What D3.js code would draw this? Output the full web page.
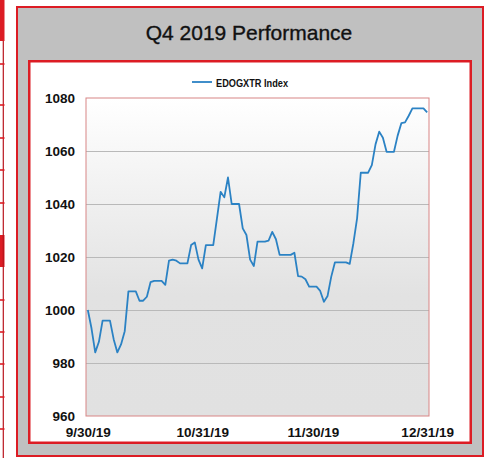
<!DOCTYPE html>
<html>
<head>
<meta charset="utf-8">
<script src="https://cdn.jsdelivr.net/npm/d3@7"></script>
<style>
  html, body { margin: 0; padding: 0; background: #fff; }
  svg { display: block; font-family: "Liberation Sans", Arial, sans-serif; }
</style>
</head>
<body>
<div id="chart"></div>
<script>
// daily index levels, 9/30/19 .. 12/31/19 (weekends carry the friday close)
const startDate = "2019-09-30"
const seriesName = "EDOGXTR Index"
const values = [
  1000, 993, 984, 988, 996, 996, 996,
  989, 984, 987, 992, 1007, 1007, 1007,
  1003.5, 1003.5, 1005, 1010.5, 1011, 1011, 1011,
  1009.5, 1018.6, 1019, 1018.6, 1017.6, 1017.6, 1017.6,
  1024.5, 1025.5, 1019, 1015.7, 1024.5, 1024.5, 1024.5,
  1034.5, 1044.6, 1042.5, 1050, 1040, 1040, 1040,
  1030.8, 1028.3, 1019, 1016.6, 1025.8, 1025.8, 1025.8,
  1026.2, 1029.5, 1026.7, 1020.8, 1020.8, 1020.8, 1020.8,
  1021.6, 1012.8, 1012.6, 1011.6, 1008.8, 1008.8, 1008.8,
  1007.2, 1003.1, 1005.3, 1012.6, 1018, 1018, 1018,
  1018, 1017.4, 1025.2, 1034.6, 1051.8, 1051.8, 1051.8,
  1054.7, 1062.5, 1067.3, 1065, 1059.7, 1059.7, 1059.7,
  1065.8, 1070.5, 1070.8, 1073.3, 1076.1, 1076.1, 1076.1,
  1076.1, 1074.6
]
const xTickLabels = ["9/30/19", "10/31/19", "11/30/19", "12/31/19"]
const yTicks = [960, 980, 1000, 1020, 1040, 1060, 1080]
const title = "Q4 2019 Performance"

const W = 485, H = 458
const red = "#dc1c24"
const plot = { left: 86, right: 429, top: 98, bottom: 416 }

const parse = d3.timeParse("%Y-%m-%d")
const start = parse(startDate)
const data = values.map((v, i) => ({ date: d3.timeDay.offset(start, i), value: v }))
const tickDates = xTickLabels.map(d3.timeParse("%-m/%d/%y"))

const svg = d3.select("#chart").append("svg")
    .attr("width", W)
    .attr("height", H)

// bits of the neighbouring table on the left edge
svg.append("rect").attr("x", 0).attr("y", 0).attr("width", 4.5).attr("height", 41).attr("fill", red)
svg.append("rect").attr("x", 0).attr("y", 235).attr("width", 4.5).attr("height", 32).attr("fill", red)
svg.append("line").attr("x1", 3.3).attr("x2", 3.3).attr("y1", 41).attr("y2", H)
    .attr("stroke", "#b8141c").attr("stroke-width", 1.2)
svg.selectAll(".rowline")
  .data([64, 105, 138, 170, 203, 300, 332, 364, 397, 429])
  .join("line")
    .attr("x1", 0).attr("x2", 4.5)
    .attr("y1", d => d).attr("y2", d => d)
    .attr("stroke", red).attr("stroke-width", 1.6)

// outer grey panel + inner white card
svg.append("rect")
    .attr("x", 17).attr("y", 7).attr("width", 466).attr("height", 449)
    .attr("fill", "#c0c0c0").attr("stroke", red).attr("stroke-width", 2)
svg.append("rect")
    .attr("x", 29.25).attr("y", 61.25).attr("width", 441.5).attr("height", 381.5)
    .attr("fill", "#fff").attr("stroke", red).attr("stroke-width", 2.5)

svg.append("text")
    .attr("x", 249).attr("y", 40)
    .attr("text-anchor", "middle")
    .style("font-size", "21px")
    .attr("fill", "#111")
    .attr("stroke", "#111").attr("stroke-width", 0.35)
    .text(title)

const x = d3.scaleTime()
    .domain([d3.timeHour.offset(tickDates[0], -12), d3.timeHour.offset(tickDates[3], 12)])
    .range([plot.left, plot.right])
const y = d3.scaleLinear()
    .domain([960, 1080])
    .range([plot.bottom, plot.top])

const defs = svg.append("defs")
const grad = defs.append("linearGradient").attr("id", "bg").attr("x1", 0).attr("x2", 0).attr("y1", 0).attr("y2", 1)
grad.append("stop").attr("offset", "0%").attr("stop-color", "#ffffff")
grad.append("stop").attr("offset", "62%").attr("stop-color", "#e2e2e2")
grad.append("stop").attr("offset", "100%").attr("stop-color", "#e1e1e1")

svg.append("rect")
    .attr("x", plot.left).attr("y", plot.top)
    .attr("width", plot.right - plot.left).attr("height", plot.bottom - plot.top)
    .attr("fill", "url(#bg)")

// gridlines
svg.append("g")
    .attr("transform", `translate(${plot.left},0)`)
    .call(d3.axisLeft(y).tickValues(yTicks.slice(1, -1)).tickSize(-(plot.right - plot.left)).tickFormat(""))
    .call(g => g.select(".domain").remove())
    .call(g => g.selectAll("line").attr("stroke", "#b9b9b9").attr("stroke-width", 1.2))

svg.append("rect")
    .attr("x", plot.left).attr("y", plot.top)
    .attr("width", plot.right - plot.left).attr("height", plot.bottom - plot.top)
    .attr("fill", "none").attr("stroke", "#d88585").attr("stroke-width", 1)

// y labels
svg.append("g")
    .attr("transform", `translate(${plot.left},0)`)
    .call(d3.axisLeft(y).tickValues(yTicks).tickSize(0).tickPadding(11).tickFormat(d3.format("d")))
    .call(g => g.select(".domain").remove())
    .call(g => g.selectAll("text")
        .style("font-size", "13.5px").style("font-weight", "bold")
        .style("font-family", "'Liberation Sans', Arial, sans-serif").attr("fill", "#111"))

// x labels
svg.append("g")
    .attr("transform", `translate(0,${plot.bottom})`)
    .call(d3.axisBottom(x).tickValues(tickDates).tickSize(0).tickPadding(11).tickFormat(d3.timeFormat("%-m/%d/%y")))
    .call(g => g.select(".domain").remove())
    .call(g => g.selectAll("text")
        .style("font-size", "13.5px").style("font-weight", "bold")
        .style("font-family", "'Liberation Sans', Arial, sans-serif").attr("fill", "#111"))

const line = d3.line()
    .x(d => x(d.date))
    .y(d => y(d.value))

svg.append("path")
    .datum(data)
    .attr("fill", "none")
    .attr("stroke", "#2b82c4")
    .attr("stroke-width", 1.8)
    .attr("stroke-linejoin", "round")
    .attr("d", line)

// legend
const legend = svg.append("g")
legend.append("line")
    .attr("x1", 192).attr("x2", 212).attr("y1", 82).attr("y2", 82)
    .attr("stroke", "#2b82c4").attr("stroke-width", 1.8)
legend.append("text")
    .attr("x", 216).attr("y", 86.5)
    .style("font-size", "10.5px").style("font-weight", "bold")
    .attr("fill", "#111")
    .attr("textLength", 72).attr("lengthAdjust", "spacingAndGlyphs")
    .text(seriesName)
</script>
</body>
</html>
